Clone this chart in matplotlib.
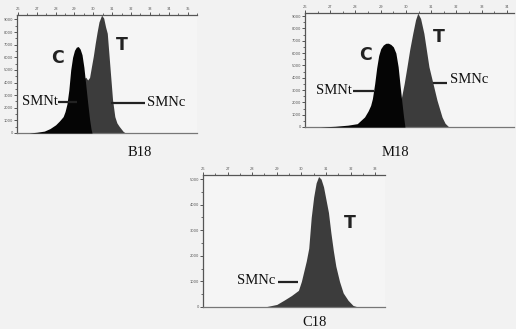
import matplotlib
matplotlib.use("Agg")
import matplotlib.pyplot as plt
from matplotlib.ticker import MultipleLocator

# ---------------- data ----------------
b18_smnt_x = [26.6, 27.0, 27.4, 27.7, 28.0, 28.2, 28.4, 28.5, 28.6, 28.7, 28.8, 28.9, 29.0, 29.1, 29.2, 29.3, 29.4, 29.5, 29.6, 29.7, 29.8, 29.88, 29.93]
b18_smnt_y = [0, 60, 150, 350, 650, 950, 1300, 1700, 2300, 3400, 5000, 6000, 6550, 6800, 6850, 6650, 6200, 5200, 3800, 2400, 1100, 300, 0]
b18_smnc_x = [28.5, 28.7, 28.85, 29.0, 29.3, 29.5, 29.6, 29.7, 29.8, 29.9, 30.0, 30.1, 30.2, 30.3, 30.44, 30.55, 30.65, 30.74, 30.88, 31.02, 31.14, 31.25, 31.37, 31.58, 31.7]
b18_smnc_y = [0, 1500, 3500, 3900, 4100, 4300, 4420, 4200, 4400, 5260, 6100, 7100, 8000, 8800, 9340, 9100, 8400, 7900, 5260, 2630, 1300, 800, 530, 130, 0]

m18_smnt_x = [26.6, 27.2, 27.7, 28.07, 28.36, 28.5, 28.6, 28.67, 28.76, 28.84, 28.92, 29.0, 29.1, 29.2, 29.3, 29.4, 29.5, 29.6, 29.69, 29.76, 29.83, 29.9, 29.96]
m18_smnt_y = [0, 60, 150, 270, 815, 1300, 1750, 2300, 3500, 4800, 5800, 6350, 6650, 6790, 6800, 6700, 6500, 6000, 4890, 3500, 2170, 900, 0]
m18_smnc_x = [29.3, 29.6, 29.8, 29.93, 30.04, 30.15, 30.27, 30.38, 30.47, 30.58, 30.71, 30.91, 31.07, 31.23, 31.43, 31.55, 31.7]
m18_smnc_y = [0, 1200, 2170, 3530, 4890, 6300, 7600, 8700, 9240, 8800, 7600, 4890, 3530, 2170, 800, 300, 0]

c18_smnc_x = [28.5, 29.0, 29.3, 29.6, 29.88, 30.0, 30.1, 30.2, 30.3, 30.4, 30.5, 30.6, 30.7, 30.8, 30.9, 31.0, 31.1, 31.2, 31.3, 31.4, 31.55, 31.7, 31.9, 32.1, 32.3]
c18_smnc_y = [0, 100, 270, 450, 650, 1000, 1400, 1800, 2300, 3500, 4300, 4850, 5100, 5000, 4700, 4200, 3700, 2900, 2200, 1600, 1000, 550, 260, 60, 0]

top_ticks_b = [26, 27, 28, 29, 30, 31, 32, 33, 34, 35]
top_ticks_m = [26, 27, 28, 29, 30, 31, 32, 33, 34]
top_ticks_c = [26, 27, 28, 29, 30, 31, 32, 33]
left_ticks_bm = [0, 1000, 2000, 3000, 4000, 5000, 6000, 7000, 8000, 9000]
left_ticks_c = [0, 1000, 2000, 3000, 4000, 5000]

# ---------------- figure ----------------
W, H = 516, 329
BG = "#f2f2f2"
BLACK = "#050505"
GRAY = "#3c3c3c"

fig = plt.figure(figsize=(W / 100, H / 100), dpi=100, facecolor=BG)


def make_ax(px_left, px_right, px_top, px_bottom, xlim, ylim, xt, yt):
    ax = fig.add_axes([px_left / W, 1 - px_bottom / H,
                       (px_right - px_left) / W, (px_bottom - px_top) / H])
    ax.set_facecolor("#f5f5f5")
    ax.set_xlim(*xlim)
    ax.set_ylim(*ylim)
    ax.spines["right"].set_visible(False)
    for s in ["top", "left"]:
        ax.spines[s].set_color("#555555")
        ax.spines[s].set_linewidth(0.9)
    ax.spines["bottom"].set_color("#777777")
    ax.spines["bottom"].set_linewidth(0.9)
    ax.xaxis.tick_top()
    ax.set_xticks(xt)
    ax.set_xticklabels([str(v) for v in xt])
    ax.xaxis.set_minor_locator(MultipleLocator(0.5))
    ax.set_yticks(yt)
    ax.set_yticklabels([str(v) for v in yt])
    ax.yaxis.set_minor_locator(MultipleLocator(500))
    ax.tick_params(axis="both", which="major", labelsize=2.6, colors="#555555",
                   length=2, width=0.7, pad=1)
    ax.tick_params(axis="both", which="minor", length=1.2, width=0.6, colors="#555555")
    return ax


def pointer(ax, x0, x1, y):
    ax.plot([x0, x1], [y, y], color="#222222", lw=1.6, clip_on=False,
            solid_capstyle="butt", zorder=5)


serif = ["Liberation Serif", "DejaVu Serif"]
LFS = 10.5
CFS = 12.5

# B18
ax1 = make_ax(17, 197, 15, 133, (25.95, 35.5), (0, 9350), top_ticks_b, left_ticks_bm)
ax1.fill_between(b18_smnc_x, b18_smnc_y, color=GRAY, lw=0, zorder=2)
ax1.fill_between(b18_smnt_x, b18_smnt_y, color=BLACK, lw=0, zorder=3)
ax1.text(28.12, 5950, "C", fontsize=CFS, fontweight="bold", ha="center", va="center", color="#222222")
ax1.text(31.5, 6980, "T", fontsize=CFS, fontweight="bold", ha="center", va="center", color="#222222")
pointer(ax1, 28.15, 29.12, 2460)
ax1.text(28.12, 2460, "SMNt", fontsize=LFS, family=serif, ha="right", va="center", color="#111111")
pointer(ax1, 30.95, 32.72, 2380)
ax1.text(32.85, 2380, "SMNc", fontsize=LFS, family=serif, ha="left", va="center", color="#111111")
fig.text(140 / W, 1 - 152 / H, "B18", fontsize=LFS, family=serif, ha="center", va="center", color="#111111")

# M18
ax2 = make_ax(305, 514, 13, 127, (26.0, 34.28), (0, 9250), top_ticks_m, left_ticks_bm)
ax2.fill_between(m18_smnc_x, m18_smnc_y, color=GRAY, lw=0, zorder=2)
ax2.fill_between(m18_smnt_x, m18_smnt_y, color=BLACK, lw=0, zorder=3)
ax2.text(28.38, 5850, "C", fontsize=CFS, fontweight="bold", ha="center", va="center", color="#222222")
ax2.text(31.3, 7300, "T", fontsize=CFS, fontweight="bold", ha="center", va="center", color="#222222")
pointer(ax2, 27.92, 28.72, 2930)
ax2.text(27.86, 2930, "SMNt", fontsize=LFS, family=serif, ha="right", va="center", color="#111111")
pointer(ax2, 31.07, 31.62, 3580)
ax2.text(31.74, 3820, "SMNc", fontsize=LFS, family=serif, ha="left", va="center", color="#111111")
fig.text(395 / W, 1 - 152 / H, "M18", fontsize=LFS, family=serif, ha="center", va="center", color="#111111")

# C18
ax3 = make_ax(203, 385, 175, 307, (26.0, 33.4), (0, 5160), top_ticks_c, left_ticks_c)
ax3.fill_between(c18_smnc_x, c18_smnc_y, color=GRAY, lw=0, zorder=2)
ax3.text(31.98, 3280, "T", fontsize=CFS, fontweight="bold", ha="center", va="center", color="#222222")
pointer(ax3, 29.05, 29.86, 980)
ax3.text(28.95, 1050, "SMNc", fontsize=LFS, family=serif, ha="right", va="center", color="#111111")
fig.text(315 / W, 1 - 322 / H, "C18", fontsize=LFS, family=serif, ha="center", va="center", color="#111111")

fig.savefig("out.png", dpi=100, facecolor=BG)
